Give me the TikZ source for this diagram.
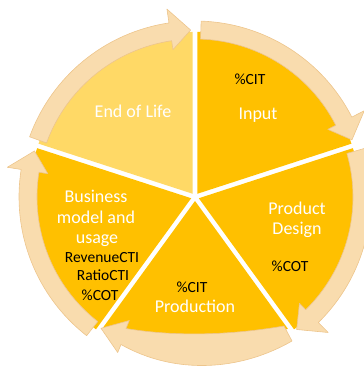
\documentclass[tikz,border=0pt]{standalone}
\usepackage{fontspec}
\setmainfont{Carlito}
\usetikzlibrary{calc}
\definecolor{gold}{HTML}{FFC000}
\definecolor{paleGold}{HTML}{FFD966}
\definecolor{band}{HTML}{F9DCAE}
\definecolor{bandEdge}{HTML}{EDC58C}

% pie segment between two angles, pushed out a little along its bisector
\newcommand\cyclewedge[3]{%
  \path[fill=#3] ($(A)+({(#1+#2)/2}:4)$) -- ++(#1:162)
    arc[start angle=#1, end angle=#2, radius=162] -- cycle;}

% curved arrow running clockwise from a tail angle to a tip angle
\newcommand\cyclearrow[2]{%
  \pgfmathsetmacro\headback{#2+7}%
  \draw[ring] ($(A)+(#1:158)$)
    arc[start angle=#1, end angle=\headback, radius=158]
    -- ($(A)+(\headback:149)$) -- ($(A)+(#2:167)$) -- ($(A)+(\headback:190)$)
    -- ($(A)+(\headback:176)$)
    arc[start angle=\headback, end angle=#1, radius=176] -- cycle;}

\begin{document}
\begin{tikzpicture}[x=1pt,y=1pt,
  ring/.style={fill=band, draw=bandEdge, line width=0.6pt, line join=round},
  whitelabel/.style={text=white, font=\fontsize{18}{20}\selectfont, inner sep=0pt, anchor=base},
  darklabel/.style={text=black, font=\fontsize{15.5}{18}\selectfont, inner sep=0pt, anchor=base}]
\useasboundingbox (0,0) rectangle (363,371);
\coordinate (A) at (195,174);

% segments
\cyclewedge{18}{90}{gold}
\cyclewedge{-54}{18}{gold}
\cyclewedge{90}{162}{paleGold}
\cyclewedge{162}{234}{gold}

% business segment texts
\node[whitelabel] (bus1) at (96,168) {Business};
\node[whitelabel] (bus2) at (96,147) {model and};
\node[whitelabel] (bus3) at (97,127) {usage};
\node[darklabel] (rev) at (102,108) {RevenueCTI};
\node[darklabel] (ratio) at (103,90) {RatioCTI};
\node[darklabel] (cotB) at (100,70) {\%COT};

% production segment with a flattened lower edge
\path[fill=gold] ($(A)+(-90:4)$) -- ($(A)+(-90:4)+(-126:158)$)
  .. controls (140,28) and (250,28) .. ($(A)+(-90:4)+(-54:158)$) -- cycle;

% remaining texts
\node[whitelabel] (eol) at (133,253) {End of Life};
\node[darklabel] (citIn) at (250,286) {\%CIT};
\node[whitelabel] (input) at (258,251) {Input};
\node[whitelabel] (pd1) at (297,156) {Product};
\node[whitelabel] (pd2) at (297,136) {Design};
\node[darklabel] (cotP) at (290,99) {\%COT};
\node[darklabel] (citP) at (192,78) {\%CIT};
\node[whitelabel] (prod) at (195,58) {Production};

% cycle arrows
\cyclearrow{160}{91.5}
\cyclearrow{88}{20}
\cyclearrow{16}{-52.5}
\cyclearrow{232}{164}
\draw[ring] (284,45) .. controls (232,36) and (176,34) .. (126,42.5)
  -- (129.3,50.5) -- (101,42.7) -- (117.7,18.5) -- (121,26.5)
  .. controls (175,-4) and (240,0) .. (292,30) -- cycle;
\end{tikzpicture}
\end{document}
